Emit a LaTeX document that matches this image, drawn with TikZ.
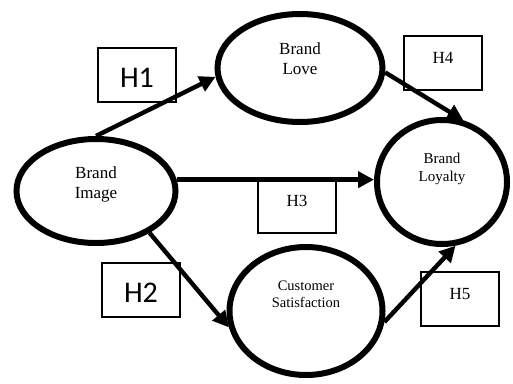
\documentclass[tikz,border=0pt]{standalone}
\usepackage{fontspec}
\setmainfont{Liberation Serif}
\newfontfamily\boxfont{Carlito}
\usetikzlibrary{shapes.geometric,arrows.meta}

\tikzset{
  bubble/.style={ellipse, draw, line width=6pt, inner sep=0pt, align=center},
  hbox/.style={draw, line width=1.2pt, minimum width=78pt, minimum height=54pt, inner sep=0pt},
  arr/.style={line width=4.4pt, -{Triangle[length=16pt,width=16pt]}}
}

\begin{document}
\begin{tikzpicture}[x=1pt,y=-1pt]
    \useasboundingbox (0,0) rectangle (513,383);

    % constructs
    \node[bubble, minimum width=159pt, minimum height=104pt, text depth=16pt,
          font=\fontsize{17}{20}\selectfont] (image) at (96,191) {Brand\\Image};
    \node[bubble, minimum width=165pt, minimum height=108pt, text depth=18pt,
          font=\fontsize{17}{20}\selectfont] (love) at (300,68) {Brand\\Love};
    \node[bubble, minimum width=130pt, minimum height=124pt, text depth=30pt,
          font=\fontsize{15}{18}\selectfont] (loyalty) at (442,182) {Brand\\Loyalty};
    \node[bubble, minimum width=153pt, minimum height=128pt, text depth=34pt,
          font=\fontsize{14.5}{17}\selectfont] (satisf) at (306,311) {Customer\\Satisfaction};

    % hypothesis boxes
    \node[hbox, font=\boxfont\fontsize{30}{30}\selectfont, text height=25pt] (h1) at (137,75) {H1};
    \node[hbox, font=\boxfont\fontsize{30}{30}\selectfont, text height=25pt] (h2) at (141,290) {H2};
    \node[hbox, font=\fontsize{17}{17}\selectfont, text depth=11pt] (h3) at (297,206) {H3};
    \node[hbox, font=\fontsize{17}{17}\selectfont, text depth=11pt] (h4) at (443,63) {H4};
    \node[hbox, font=\fontsize{17}{17}\selectfont, text depth=11pt] (h5) at (460,299) {H5};

    % paths
    \draw[arr] (image.north) -- (love.186);
    \draw[arr] (love.-3) -- (loyalty.71);
    \draw[arr] (image.8) -- (image.8 -| loyalty.west);
    \draw[arr] (image.-38) -- (satisf.192);
    \draw[arr] (satisf.-8) -- (loyalty.-78);

\end{tikzpicture}
\end{document}
